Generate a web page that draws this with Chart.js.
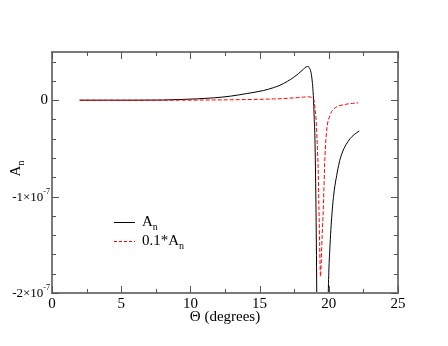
<!DOCTYPE html>
<html>
<head>
<meta charset="utf-8">
<script src="https://cdn.jsdelivr.net/npm/chart.js@4.4.1/dist/chart.umd.min.js"></script>
<style>
html,body{margin:0;padding:0;background:#fff;}
#wrap{width:448px;height:346px;position:relative;}
</style>
</head>
<body>
<div id="wrap"><canvas id="c" width="448" height="346"></canvas></div>
<script>
// Values in units of 1e-7
const anX = [2, 4, 6, 8, 9.25, 10.5, 11.66, 12.9, 14.07, 15.27, 16.0, 16.47, 17.0, 17.44, 17.8, 18.16, 18.35, 18.47, 18.6, 18.71, 18.8, 18.88, 18.95, 19.0, 19.07, 19.13, 19.2, 19.3, 19.4, 19.5, 19.6, 19.72, 19.85, 19.97, 20.09, 20.25, 20.4, 20.57, 20.75, 20.93, 21.1, 21.25, 21.53, 21.85, 22.2];
const anY = [0, 0, 0, 0.002, 0.007, 0.014, 0.024, 0.042, 0.069, 0.10, 0.13, 0.155, 0.195, 0.235, 0.275, 0.32, 0.345, 0.35, 0.335, 0.29, 0.2, 0.05, -0.2, -0.41, -1.07, -2.0, -3.5, -8.0, -18.3, -15.0, -11.0, -5.9, -3.1, -1.95, -1.5, -1.14, -0.93, -0.78, -0.65, -0.56, -0.5, -0.46, -0.40, -0.355, -0.32];
const scaledX = [2, 4, 6, 8, 9.25, 10.5, 11.66, 12.9, 14.07, 15.27, 16.0, 16.47, 17.0, 17.44, 17.8, 18.16, 18.47, 18.76, 18.85, 18.93, 19.0, 19.07, 19.12, 19.18, 19.24, 19.29, 19.34, 19.4, 19.46, 19.52, 19.6, 19.72, 19.85, 20.09, 20.3, 20.57, 21.29, 21.7, 22.13];
const scaledY = [0, 0, 0, 0.0002, 0.0007, 0.0014, 0.0024, 0.0042, 0.0069, 0.010, 0.013, 0.0155, 0.0195, 0.0235, 0.0275, 0.032, 0.035, 0.03, 0.02, 0, -0.08, -0.18, -0.31, -0.5, -0.76, -1.14, -1.5, -1.83, -1.65, -1.4, -1.14, -0.59, -0.31, -0.155, -0.1, -0.069, -0.041, -0.033, -0.028];
const xTicks = [0, 5, 10, 15, 20, 25];
const yTicks = [0, -1, -2];
const yTickLabels = [["0", ""], ["-1×10", "-7"], ["-2×10", "-7"]];
const seriesNames = [["A", "n"], ["0.1*A", "n"]];

const FONT = '"Liberation Serif", "Times New Roman", serif';

const framePlugin = {
  id: 'frame',
  afterDatasetsDraw(chart) {
    const ctx = chart.ctx;
    const a = chart.chartArea;
    const xs = chart.scales.x, ys = chart.scales.y;
    ctx.save();
    ctx.strokeStyle = '#7a7a7a';
    ctx.lineWidth = 2;
    ctx.strokeRect(a.left, a.top, a.right - a.left, a.bottom - a.top);
    ctx.lineWidth = 1;
    ctx.strokeStyle = '#555';
    for (let v = 0; v <= 25; v += 2.5) {
      const px = Math.round(xs.getPixelForValue(v)) + 0.5;
      const major = Math.abs(v % 5) < 1e-9;
      const len = major ? 7 : 4;
      ctx.beginPath();
      ctx.moveTo(px, a.bottom); ctx.lineTo(px, a.bottom - len);
      ctx.moveTo(px, a.top); ctx.lineTo(px, a.top + len);
      ctx.stroke();
    }
    for (let i = 0; i <= 25; i++) {
      const v = -2 + i * 0.2;
      if (v > 0.5 + 1e-9) break;
      const py = Math.round(ys.getPixelForValue(v)) + 0.5;
      const major = Math.abs(v - Math.round(v)) < 1e-9;
      const len = major ? 7 : 4;
      ctx.beginPath();
      ctx.moveTo(a.left, py); ctx.lineTo(a.left + len, py);
      ctx.moveTo(a.right, py); ctx.lineTo(a.right - len, py);
      ctx.stroke();
    }
    ctx.fillStyle = '#000';
    ctx.font = '15px ' + FONT;
    ctx.textAlign = 'center';
    ctx.textBaseline = 'middle';
    xTicks.forEach(v => ctx.fillText(String(v), xs.getPixelForValue(v), a.bottom + 11));
    ctx.fillText('Θ (degrees)', (a.left + a.right) / 2, a.bottom + 24);
    yTicks.forEach((v, i) => {
      const py = ys.getPixelForValue(v);
      const [base, sup] = yTickLabels[i];
      ctx.textBaseline = 'middle';
      if (!sup) {
        ctx.font = '15px ' + FONT;
        ctx.textAlign = 'right';
        ctx.fillText(base, a.left - 4, py);
      } else {
        ctx.font = '8px ' + FONT;
        ctx.textAlign = 'right';
        ctx.fillText(sup, a.left - 2, py - 5);
        const sw = ctx.measureText(sup).width;
        ctx.font = '13px ' + FONT;
        ctx.fillText(base, a.left - 2 - sw, py + 1);
      }
    });
    ctx.save();
    ctx.translate(16, (a.top + a.bottom) / 2 - 4);
    ctx.rotate(-Math.PI / 2);
    ctx.font = '15px ' + FONT;
    ctx.textAlign = 'left';
    ctx.textBaseline = 'middle';
    const w = ctx.measureText('A').width;
    ctx.fillText('A', -(w + 5) / 2, 0);
    ctx.font = '10px ' + FONT;
    ctx.fillText('n', -(w + 5) / 2 + w, 5);
    ctx.restore();
    const items = [
      {y: 222.5, color: '#000', dash: []},
      {y: 241.5, color: '#ff0000', dash: [3, 2]}
    ];
    items.forEach((it, i) => {
      ctx.strokeStyle = it.color;
      ctx.setLineDash(it.dash);
      ctx.beginPath();
      ctx.moveTo(114, it.y); ctx.lineTo(135, it.y);
      ctx.stroke();
      ctx.setLineDash([]);
      ctx.textAlign = 'left';
      ctx.textBaseline = 'middle';
      ctx.font = '15px ' + FONT;
      const [t, sub] = seriesNames[i];
      ctx.fillText(t, 142, it.y);
      const tw = ctx.measureText(t).width;
      ctx.font = '10px ' + FONT;
      ctx.fillText(sub, 142 + tw, it.y + 5);
    });
    ctx.restore();
  }
};

new Chart(document.getElementById('c'), {
  type: 'line',
  data: {
    datasets: [
      {
        label: 'A_n',
        data: anX.map((x, i) => ({x, y: anY[i]})),
        borderColor: '#000',
        borderWidth: 1,
        pointRadius: 0,
        cubicInterpolationMode: 'monotone',
        fill: false,
        order: 1
      },
      {
        label: '0.1*A_n',
        data: scaledX.map((x, i) => ({x, y: scaledY[i]})),
        borderColor: '#ff0000',
        borderWidth: 1,
        borderDash: [4, 2],
        pointRadius: 0,
        cubicInterpolationMode: 'monotone',
        fill: false,
        order: 0
      }
    ]
  },
  options: {
    responsive: false,
    animation: false,
    devicePixelRatio: 1,
    layout: {padding: {left: 0, top: 52, right: 50, bottom: 0}},
    plugins: {legend: {display: false}, tooltip: {enabled: false}},
    scales: {
      x: {
        type: 'linear', min: 0, max: 25,
        grid: {display: false}, border: {display: false},
        ticks: {display: false},
        afterFit: s => { s.height = 53; }
      },
      y: {
        type: 'linear', min: -2, max: 0.5,
        grid: {display: false}, border: {display: false},
        ticks: {display: false},
        afterFit: s => { s.width = 52; }
      }
    }
  },
  plugins: [framePlugin]
});
</script>
</body>
</html>
